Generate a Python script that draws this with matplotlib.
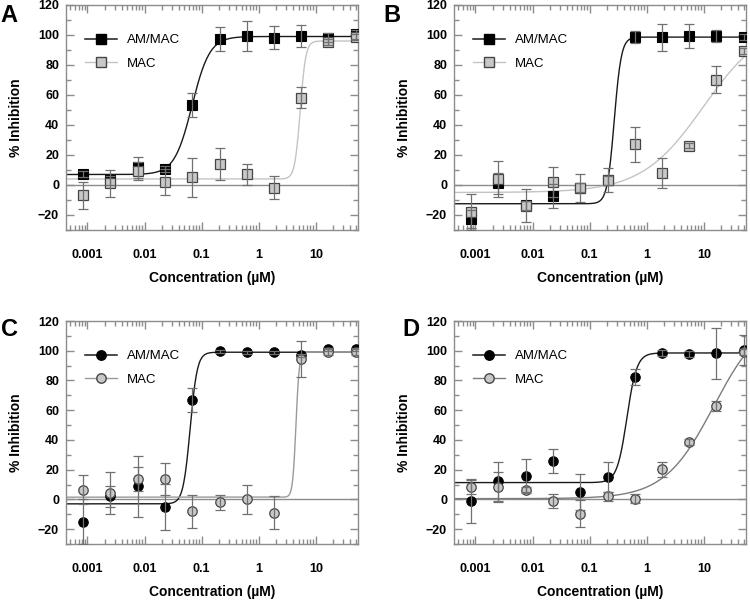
import numpy as np
import matplotlib
matplotlib.use("Agg")
import matplotlib.pyplot as plt
from matplotlib.lines import Line2D
from matplotlib.ticker import LogLocator, FixedLocator, FixedFormatter, MultipleLocator, NullFormatter

plt.rcParams['font.family'] = ['Liberation Sans', 'DejaVu Sans']

# 3-fold dilution series (uM)
conc = [0.00085, 0.0025, 0.0076, 0.023, 0.069, 0.21, 0.62, 1.85, 5.6, 16.7, 50]

# panel A
a_am = [7, 3, 11.7, 10.5, 53, 97, 99.3, 98.2, 99.3, 98, 100.5]
a_am_err = [2, 3, 7, 2, 8, 8, 10, 7.5, 7.5, 3, 3]
a_mac = [-7, 1, 9.5, 2, 5, 14, 7, -1.7, 58, 95.5, 98.5]
a_mac_err = [9, 9, 6, 8.5, 13, 10.5, 6.7, 7.5, 7, 2, 2]

# panel B
b_am = [-22.5, 1, -13.5, -7.5, -2, 3, 98.5, 98.5, 99.3, 99.3, 98.5]
b_am_err = [6, 7, 3, 8, 3, 3, 4, 9, 8, 4, 2]
b_mac = [-18, 4, -13.8, 2.2, -2, 3.3, 27, 8.2, 26.2, 70, 89]
b_mac_err = [12, 12, 11, 10, 9.5, 8, 11.5, 10, 1.5, 9, 2]

# panel C
c_am = [-15, 2.2, 8.8, -5, 66.8, 99.6, 99.1, 98.9, 97, 101, 101]
c_am_err = [15, 7, 20.5, 15.5, 8, 1, 1, 1, 1, 1, 1]
c_mac = [6.6, 4.4, 13.7, 13.7, -8, -1.8, 0, -9, 94.5, 99, 99]
c_mac_err = [9.5, 14, 8, 10.5, 11, 5, 10, 11, 12, 2, 2]

# panel D
d_am = [-1.1, 12.2, 16, 26, 5, 15, 82.5, 98.3, 97.8, 98.3, 100.5]
d_am_err = [14.5, 13, 11, 8, 12, 10, 5.5, 2, 2, 17, 10]
d_mac = [8.3, 8.5, 6.2, -1.2, -9.5, 2.2, 0.5, 20.4, 38.7, 62.8, 99.2]
d_mac_err = [4.5, 10, 2, 4.7, 9.3, 3, 3, 5, 2, 3.5, 2]

# fitted 4PL parameters: bottom, top, EC50, hill
a_am_fit = (7, 99, 0.068, 2.8)
a_mac_fit = (4, 96, 5.35, 9)
b_am_fit = (-12.5, 98.6, 0.27, 7)
b_mac_fit = (-5, 110, 10, 0.8)
c_am_fit = (-3, 99, 0.063, 7)
c_mac_fit = (1.5, 99, 4.5, 15)
d_am_fit = (11.3, 98.5, 0.45, 5)
d_mac_fit = (0.5, 125, 15, 1.0)

xticks = [0.001, 0.01, 0.1, 1, 10]
xticklabels = ['0.001', '0.01', '0.1', '1', '10']

def logistic(x, p):
    bottom, top, ec50, hill = p
    return bottom + (top - bottom) / (1 + (ec50 / x) ** hill)

fig = plt.figure(figsize=(7.5, 6.02), dpi=100)
W, H = 750.0, 602.0
boxes = [(66, 5, 358, 230), (454, 5, 746, 230), (66, 321, 358, 544), (454, 321, 746, 544)]
panels = [
    ('A', 's', a_am, a_am_err, a_mac, a_mac_err, a_am_fit, a_mac_fit, '#c4c4c4'),
    ('B', 's', b_am, b_am_err, b_mac, b_mac_err, b_am_fit, b_mac_fit, '#c4c4c4'),
    ('C', 'o', c_am, c_am_err, c_mac, c_mac_err, c_am_fit, c_mac_fit, '#9a9a9a'),
    ('D', 'o', d_am, d_am_err, d_mac, d_mac_err, d_am_fit, d_mac_fit, '#7c7c7c'),
]
letter_pos = [(9, 15), (392, 15), (9, 329), (411, 329)]

grey = '#8c8c8c'
fill_grey = '#c8c8c8'
xlim = (0.00042, 55)
xs = np.logspace(np.log10(xlim[0]), np.log10(xlim[1]), 400)

for (l, t, r, b), pan, lp in zip(boxes, panels, letter_pos):
    letter, mk, am, am_err, mac, mac_err, am_fit, mac_fit, maccol = pan
    ax = fig.add_axes([l / W, 1 - b / H, (r - l) / W, (b - t) / H])
    ax.set_xscale('log')
    ax.set_xlim(xlim)
    ax.set_ylim(-30, 120)

    ax.axhline(0, color=grey, lw=1.0, zorder=1)
    ax.plot(xs, logistic(xs, am_fit), color='#1a1a1a', lw=1.0, zorder=2)
    ax.plot(xs, logistic(xs, mac_fit), color=maccol, lw=1.0, zorder=2)

    ax.plot(conc, am, mk, ms=6.8, mfc='black', mec='black', mew=0.8, ls='none', zorder=3)
    ax.plot(conc, mac, mk, ms=6.8, mfc=fill_grey, mec='#454545', mew=0.9, ls='none', zorder=4)
    ax.errorbar(conc, am, yerr=am_err, fmt='none', ecolor='#707070', elinewidth=0.9,
                capsize=3.6, capthick=0.9, zorder=5)
    ax.errorbar(conc, mac, yerr=mac_err, fmt='none', ecolor='#707070', elinewidth=0.9,
                capsize=3.6, capthick=0.9, zorder=5)

    for s in ax.spines.values():
        s.set_color(grey)
        s.set_linewidth(1.0)

    ax.xaxis.set_major_locator(FixedLocator(xticks))
    ax.xaxis.set_major_formatter(FixedFormatter(xticklabels))
    ax.xaxis.set_minor_locator(LogLocator(base=10, subs=np.arange(2, 10), numticks=20))
    ax.xaxis.set_minor_formatter(NullFormatter())
    ax.yaxis.set_major_locator(MultipleLocator(20))
    ax.yaxis.set_minor_locator(MultipleLocator(10))

    ax.tick_params(which='both', direction='in', top=True, right=True, color=grey, width=1.0)
    ax.tick_params(which='major', length=5.5)
    ax.tick_params(which='minor', length=3.5)
    ax.tick_params(axis='x', which='major', pad=14, labelsize=9)
    ax.tick_params(axis='y', which='major', pad=5, labelsize=9)
    for lab in ax.get_xticklabels() + ax.get_yticklabels():
        lab.set_fontweight('bold')

    ax.set_xlabel('Concentration (µM)', fontsize=10, fontweight='bold', labelpad=7)
    ax.set_ylabel('% Inhibition', fontsize=10, fontweight='bold', labelpad=11)

    handles = [
        Line2D([], [], color='#1a1a1a', lw=1.1, marker=mk, ms=6.8, mfc='black', mec='black'),
        Line2D([], [], color=maccol, lw=1.0, marker=mk, ms=6.8, mfc=fill_grey, mec='#454545'),
    ]
    ax.legend(handles, ['AM/MAC', 'MAC'], loc='upper left', bbox_to_anchor=(19 / 292, 0.87),
              frameon=False, fontsize=9.5, borderpad=0, borderaxespad=0,
              handlelength=2.4, handletextpad=0.8, labelspacing=0.85)

    fig.text(lp[0] / W, 1 - lp[1] / H, letter, fontsize=17, fontweight='bold',
             ha='center', va='center')

fig.savefig('out.png', dpi=100)
